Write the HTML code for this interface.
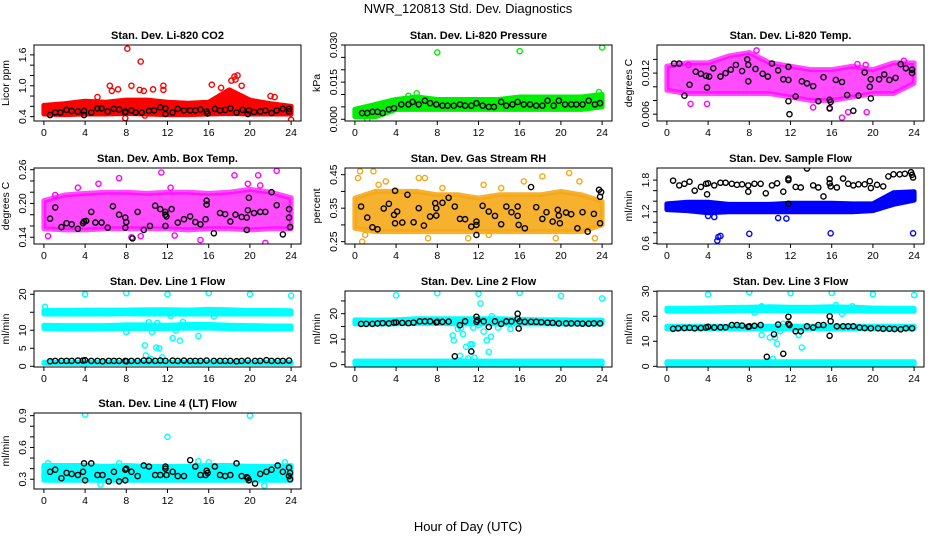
<!DOCTYPE html>
<html><head><meta charset="utf-8">
<style>
html,body{margin:0;padding:0;background:#fff;}
svg{display:block;font-family:"Liberation Sans",Arial,sans-serif;}
</style></head>
<body>
<svg id="chart" width="936" height="540" viewBox="0 0 936 540">
<rect x="0" y="0" width="936" height="540" fill="#fff"/>
<text x="468" y="13" text-anchor="middle" font-size="13">NWR_120813  Std. Dev. Diagnostics</text>
<text x="468" y="531" text-anchor="middle" font-size="13">Hour of Day (UTC)</text>
</svg>
<script>
// ---- shared data ----
const bandHours = [0,2,4,6,8,10,12,14,16,18,20,22,24];
const rowHours = [0.6,1.1,1.7,2.2,2.7,3.3,3.8,4.0,4.6,5.2,5.7,6.3,6.8,7.3,7.9,8.0,8.5,9.1,9.7,10.2,10.8,11.3,11.8,12.5,13.0,13.6,14.2,14.7,15.2,15.8,16.5,17.1,17.6,18.1,18.7,19.2,19.8,20.5,21.0,21.6,22.1,22.7,23.2,23.8];
const xTicks = [0,4,8,12,16,20,24];

// ---- panel 1: CO2 ----
const co2Lo = [0.45,0.44,0.45,0.45,0.46,0.45,0.44,0.44,0.45,0.46,0.45,0.45,0.45];
const co2Hi = [0.62,0.65,0.7,0.68,0.72,0.72,0.68,0.66,0.68,0.92,0.72,0.65,0.6];
const co2Out = [[8.1,1.72],[9.4,1.47],[6.4,1.0],[6.6,0.9],[7.2,0.93],[8.5,1.0],[9.3,0.92],[9.7,0.9],[10.6,0.93],[11.6,1.0],[11.6,0.92],[16.3,1.02],[17.2,0.96],[18.5,1.18],[18.8,1.2],[19.2,1.0],[22,0.8],[22.4,0.78],[7.9,0.37],[24,0.34],[9.8,0.42],[5.2,0.78],[18.2,1.1],[18.6,1.12]];
const co2Black = [[0.6,0.43],[1.1,0.48],[1.6,0.48],[2.2,0.53],[2.7,0.51],[3.3,0.5],[3.9,0.43],[3.9,0.51],[4.6,0.48],[5.2,0.56],[5.6,0.56],[6.2,0.5],[6.8,0.55],[7.3,0.54],[7.9,0.48],[7.9,0.5],[8.5,0.52],[8.9,0.48],[9.5,0.48],[10.2,0.51],[10.7,0.52],[11.3,0.58],[11.8,0.45],[11.8,0.56],[12.5,0.48],[13,0.55],[13.6,0.52],[14.2,0.52],[14.7,0.52],[15.2,0.54],[15.8,0.5],[15.9,0.46],[16.6,0.55],[17.1,0.52],[17.6,0.53],[18.1,0.56],[18.7,0.48],[19.3,0.53],[19.8,0.45],[19.9,0.52],[20.4,0.49],[21,0.5],[21.5,0.52],[22.1,0.47],[22.6,0.52],[23.2,0.55],[23.8,0.5],[23.8,0.55]];
// ---- panel 2: pressure ----
const presLo = [0.001,0.001,0.004,0.004,0.004,0.004,0.004,0.004,0.004,0.004,0.004,0.004,0.005];
const presHi = [0.004,0.006,0.008,0.009,0.008,0.008,0.008,0.008,0.009,0.009,0.009,0.009,0.01];
const presOut = [[8,0.027],[16,0.0275],[24,0.029],[23.7,0.011],[1.2,0.0],[6,0.0105],[5.2,0.0095]];
const presBlack = [[0.7,0.0025],[1.2,0.0025],[1.7,0.003],[2.2,0.003],[2.7,0.0025],[3.3,0.004],[3.8,0.0045],[4.5,0.006],[5.2,0.006],[5.6,0.007],[6.2,0.006],[6.8,0.0075],[7.3,0.0065],[7.9,0.006],[8.5,0.0055],[9,0.0055],[9.6,0.0055],[10.2,0.006],[10.7,0.0055],[11.3,0.0055],[11.8,0.0065],[12.4,0.0055],[13,0.005],[13.5,0.005],[14.2,0.007],[14.7,0.0055],[15.3,0.006],[15.8,0.007],[16.4,0.006],[17,0.006],[17.6,0.0055],[18.2,0.0055],[18.7,0.0075],[19.3,0.0055],[19.8,0.0075],[20.4,0.006],[21,0.006],[21.5,0.006],[22.1,0.006],[22.7,0.0075],[23.3,0.006],[23.8,0.0065]];
// ---- panel 3: Li-820 temp ----
const ltLo = [0.0095,0.009,0.009,0.009,0.009,0.009,0.0085,0.008,0.008,0.0085,0.009,0.009,0.0105];
const ltHi = [0.013,0.0135,0.0135,0.0145,0.015,0.0135,0.013,0.0125,0.0125,0.013,0.0125,0.0135,0.0135];
const ltOut = [[3.9,0.0075],[2.3,0.0075],[14.2,0.007],[15.8,0.0068],[17.6,0.0063],[17,0.0055],[19.4,0.0063],[18.5,0.0133],[8.7,0.0153],[19.3,0.0132],[23,0.0138],[2.1,0.0132]];
const ltBlack = [[0.7,0.0134],[1.2,0.0134],[1.7,0.0087],[2.2,0.0103],[2.8,0.0122],[3.3,0.0119],[3.8,0.0116],[3.9,0.0099],[4.1,0.0115],[4.5,0.0127],[5.2,0.0115],[5.7,0.012],[6.2,0.0125],[6.7,0.0132],[7.3,0.0123],[7.9,0.0108],[7.8,0.014],[7.9,0.0132],[8.6,0.0126],[9.3,0.0119],[9.8,0.0115],[10.2,0.0134],[10.8,0.0124],[11.3,0.0111],[11.8,0.011],[11.8,0.0129],[11.8,0.0079],[11.9,0.006],[12.5,0.0086],[13.1,0.0108],[13.6,0.0105],[14.2,0.0101],[14.7,0.0079],[15.2,0.0114],[15.8,0.0081],[15.8,0.0069],[15.9,0.0078],[16.4,0.011],[17,0.0107],[17.5,0.0088],[18.1,0.0065],[18.6,0.0087],[19.2,0.0121],[19.7,0.01],[19.8,0.0111],[19.8,0.0083],[20.6,0.0111],[21.1,0.0118],[21.6,0.011],[22.2,0.0113],[22.7,0.0133],[23.2,0.0127],[23.8,0.0125],[23.8,0.012]];
// ---- panel 4: Amb box temp ----
const abLo = [0.155,0.153,0.153,0.155,0.155,0.155,0.155,0.153,0.155,0.155,0.153,0.155,0.155];
const abHi = [0.205,0.215,0.218,0.22,0.22,0.218,0.22,0.22,0.218,0.22,0.225,0.22,0.21];
const abOut = [[0.4,0.142],[5.3,0.235],[7.3,0.245],[11.4,0.255],[18.5,0.25],[20.8,0.25],[22.6,0.258],[21.5,0.13],[15.2,0.135],[8.5,0.14],[9.4,0.142],[12.7,0.143],[1.1,0.215],[3.3,0.228],[19.8,0.235],[21,0.232],[12.3,0.228]];
const abBlack = [[0.6,0.173],[1.1,0.193],[1.7,0.158],[2.2,0.165],[2.7,0.163],[3.3,0.155],[3.8,0.165],[3.9,0.168],[4.1,0.169],[4.6,0.185],[5,0.166],[5.6,0.166],[6.2,0.157],[6.7,0.195],[7.3,0.18],[7.9,0.175],[7.9,0.157],[8,0.167],[8.6,0.138],[9.1,0.185],[9.7,0.153],[10.3,0.16],[10.8,0.196],[11.3,0.19],[11.8,0.185],[11.8,0.18],[11.9,0.177],[11.8,0.16],[12.4,0.19],[13,0.166],[13.6,0.172],[14.2,0.177],[14.7,0.167],[15.2,0.163],[15.7,0.172],[15.8,0.198],[15.8,0.205],[16.5,0.147],[17.1,0.183],[17.6,0.181],[18.1,0.168],[18.6,0.18],[19.2,0.176],[19.7,0.175],[19.7,0.153],[19.8,0.188],[19.9,0.21],[20.4,0.183],[21,0.185],[21.5,0.185],[22.1,0.22],[22.6,0.197],[23.2,0.145],[23.8,0.19],[23.8,0.175],[23.9,0.158]];
// ---- panel 5: RH ----
const rhLo = [0.29,0.28,0.28,0.28,0.28,0.28,0.28,0.28,0.28,0.28,0.28,0.28,0.3];
const rhHi = [0.38,0.4,0.4,0.4,0.39,0.39,0.38,0.39,0.39,0.39,0.4,0.39,0.37];
const rhOut = [[0.5,0.46],[0.3,0.44],[1.8,0.46],[2.3,0.42],[3,0.43],[6.2,0.44],[6.8,0.44],[7.1,0.26],[0.7,0.25],[1,0.27],[11,0.26],[12.5,0.42],[13,0.27],[16.4,0.43],[18.2,0.445],[20.8,0.455],[21.8,0.43],[23.3,0.26],[19.5,0.26],[8.5,0.41],[14.2,0.41]];
const rhBlack = [[0.6,0.355],[1.2,0.322],[1.7,0.293],[2.2,0.287],[2.8,0.349],[3.3,0.363],[3.8,0.33],[3.9,0.402],[3.9,0.305],[4.1,0.34],[4.6,0.307],[5.1,0.39],[5.7,0.308],[6.2,0.35],[6.7,0.298],[7.3,0.325],[7.8,0.365],[7.9,0.35],[7.9,0.328],[8.5,0.366],[9.1,0.381],[9.7,0.355],[10.2,0.318],[10.7,0.317],[11.3,0.295],[11.8,0.3],[11.8,0.31],[11.8,0.27],[12.4,0.357],[13,0.34],[13.6,0.327],[14.2,0.302],[14.7,0.355],[15.2,0.338],[15.8,0.355],[15.8,0.327],[15.9,0.3],[16.5,0.29],[17.1,0.413],[17.6,0.353],[18.2,0.318],[18.6,0.338],[19.2,0.31],[19.7,0.345],[19.8,0.328],[19.9,0.305],[20.5,0.337],[21,0.332],[21.6,0.29],[22.1,0.338],[22.6,0.28],[23.2,0.333],[23.7,0.405],[23.8,0.384],[23.9,0.398],[23.8,0.305]];
// ---- panel 6: sample flow ----
const sfLo = [1.24,1.22,1.18,1.2,1.2,1.2,1.2,1.2,1.2,1.2,1.22,1.34,1.42];
const sfHi = [1.35,1.38,1.38,1.34,1.34,1.34,1.36,1.36,1.36,1.35,1.35,1.56,1.58];
const sfOut = [[4.9,0.65],[5,0.72],[5.2,0.74],[8,0.78],[15.9,0.79],[23.9,0.79],[10.8,1.08],[11.6,1.07],[4,1.12],[4.6,1.1]];
const sfBlack = [[0.6,1.79],[1.2,1.7],[1.7,1.73],[2.2,1.77],[2.7,1.6],[3.3,1.67],[3.8,1.73],[4,1.74],[3.9,1.53],[4.6,1.7],[5.2,1.75],[5.7,1.75],[6.3,1.73],[6.8,1.71],[7.3,1.72],[7.9,1.7],[7.9,1.58],[8.5,1.73],[9.1,1.73],[9.6,1.55],[10.2,1.7],[10.7,1.74],[11.3,1.58],[11.8,1.8],[11.8,1.83],[11.8,1.35],[12.5,1.67],[13,1.66],[13.6,2.02],[14.2,1.7],[14.7,1.66],[15.2,1.49],[15.8,1.82],[15.8,1.74],[15.9,1.68],[16.5,1.66],[17.1,1.83],[17.6,1.73],[18.1,1.7],[18.6,1.72],[19.2,1.72],[19.7,1.78],[19.8,1.65],[20.4,1.71],[21,1.68],[21.5,1.87],[22,1.91],[22.6,1.91],[23.1,1.92],[23.7,1.95],[23.8,1.9],[23.9,1.85]];
// ---- panel 7: line 1 flow ----
const l1HighLo = [14.5,14.5,14.5,14.5,14.6,14.5,14.5,14.5,14.5,14.5,14.5,14.5,14.5];
const l1HighHi = [15.5,15.5,15.6,15.6,15.6,15.7,15.7,15.6,15.8,15.7,15.5,15.5,15.4];
const l1MidLo = [10.5,10.4,10.4,10.4,10.5,10.5,10.5,10.6,10.6,10.5,10.4,10.3,10.4];
const l1MidHi = [11.4,11.3,11.3,11.3,11.5,11.5,11.4,11.6,11.6,11.4,11.3,11.2,11.2];
const l1LowLo = [0.8,0.8,0.8,0.8,0.8,0.8,0.8,0.8,0.8,0.8,0.8,0.8,0.8];
const l1LowHi = [1.1,1.1,1.1,1.1,1.1,1.1,1.1,1.1,1.1,1.1,1.1,1.1,1.1];
const l1Out = [[4,20],[8,20.3],[12,20],[16,20.3],[20,20],[24,19.6],[0.1,16.5],[9.8,5.8],[9.9,3],[10.4,2],[10.9,5.2],[11.2,5],[11.5,2.5],[10.2,12.2],[11,12],[12.5,7.8],[13.2,7.1],[15,8.4],[12.8,9.9],[8,9.5],[10.5,9.5],[13.5,12.3],[12.3,14],[16.5,13.8],[3.9,0.3]];
const l1Row = [1.4,1.5,1.5,1.5,1.5,1.6,1.6,1.7,1.5,1.5,1.4,1.5,1.5,1.5,1.5,1.4,1.5,1.5,1.6,1.6,1.5,1.6,1.5,1.6,1.5,1.6,1.5,1.5,1.5,1.6,1.5,1.5,1.5,1.5,1.4,1.5,1.6,1.5,1.5,1.7,1.5,1.5,1.5,1.6];
const l1Black = [];
// ---- panel 8: line 2 flow ----
const l2HighLo = [16,16,16,16.2,16.2,16,16,16,16,16,16,16,16];
const l2HighHi = [17.6,17.5,17.6,18,18,18,18,18,17.8,17.6,17.6,17.5,17.5];
const l2LowLo = [0.3,0.3,0.3,0.3,0.3,0.3,0.3,0.3,0.3,0.3,0.3,0.3,0.3];
const l2LowHi = [1.4,1.4,1.4,1.4,1.4,1.4,1.4,1.4,1.4,1.4,1.4,1.4,1.4];
const l2Out = [[4,27.2],[8,28],[12,27.8],[16,28.2],[20,27],[24,26],[12.2,24],[9.5,11.5],[9.6,9.5],[10,14],[10.5,12],[10.8,7],[11.2,8],[11.4,8],[11,2.5],[11.6,2.8],[10.2,3.5],[12.5,13],[12.8,9.5],[13,5],[13.2,11],[13.3,19],[15.1,14],[11.5,14.5],[12,15.5],[10.3,14.5],[13.9,14.5]];
const l2Row = [16,16,16,16.2,16.3,16.2,16.5,16.6,16.4,16.3,16.5,17,17,17,16.6,16.8,16.8,16.9,null,null,null,null,null,null,null,null,null,17,17,null,16.8,16.8,16.8,16.7,16.5,16.4,16.2,16.2,16.2,16.2,16.1,16.1,16.2,16.2];
const l2Black = [[9.7,3.3],[11.3,5.2],[10.2,15.5],[10.7,17],[11.8,16.8],[11.8,18.8],[11.9,17.5],[12.5,17],[13,14.8],[13.6,17],[14.2,16],[15.8,20],[15.9,14.2],[15.8,18],[16,17]];
// ---- panel 9: line 3 flow ----
const l3HighLo = [22,22,22,22.2,22.3,22.3,22.2,22.2,22.2,22.2,22,22,22];
const l3HighHi = [23.2,23.2,23.3,23.5,23.6,23.8,23.6,23.6,23.8,23.6,23.3,23.2,23.2];
const l3MidLo = [15,15,15,15,15,15,15,15,15,15,15,15,15];
const l3MidHi = [16,16,16,16,16,16,16,16,16,16,16,16,16];
const l3LowLo = [0.9,0.9,0.9,0.9,0.9,0.9,0.9,0.9,0.9,0.9,0.9,0.9,0.9];
const l3LowHi = [1.8,1.8,1.8,1.8,1.8,1.8,1.8,1.8,1.8,1.8,1.8,1.8,1.8];
const l3Out = [[4,28.7],[8,29.6],[12,29.2],[16,29.3],[20,28.8],[24,28.5],[9.2,12.5],[10,11.5],[10.5,11.5],[10.7,9],[11,14],[11.3,17],[12.8,12.5],[13.1,7.5],[10.3,3],[16.4,24.5],[18,24],[8.5,21.5],[9.2,24],[17,21]];
const l3Row = [15,15.2,15.3,15.4,15.2,15.3,15.5,15.8,15.5,15.6,15.6,16.5,16.5,16.3,15.8,16,16.2,16.5,null,null,null,null,null,null,null,null,null,16.5,16.5,null,16,16,16,16,15.5,15.3,15.2,15.2,15,15,14.9,14.8,15.2,15.2];
const l3Black = [[9.7,3.8],[10.4,12.8],[10.8,16.7],[11.3,5],[11.8,19.8],[11.8,17],[11.9,16.5],[12.5,14],[13,14],[13.6,16],[14.2,15.5],[15.8,20],[15.9,18],[15.8,12.2]];
// ---- panel 10: line 4 flow ----
const l4Lo = [0.29,0.29,0.29,0.29,0.29,0.29,0.29,0.29,0.29,0.29,0.29,0.29,0.29];
const l4Hi = [0.43,0.43,0.43,0.42,0.43,0.42,0.42,0.42,0.43,0.43,0.42,0.42,0.43];
const l4Out = [[4,0.91],[20,0.9],[12,0.7],[21.4,0.24],[5.5,0.25],[15,0.47],[23.4,0.46],[0.4,0.45],[16,0.46],[7.3,0.45]];
const l4Black = [[0.6,0.37],[1.1,0.39],[1.7,0.31],[2.2,0.36],[2.7,0.35],[3.3,0.34],[3.8,0.37],[3.9,0.45],[4,0.29],[4.6,0.45],[5.2,0.34],[5.7,0.34],[6.3,0.28],[6.8,0.37],[7.3,0.28],[7.9,0.29],[7.9,0.39],[8,0.4],[8.5,0.37],[9.1,0.33],[9.7,0.43],[10.2,0.42],[10.8,0.34],[11.3,0.34],[11.8,0.42],[11.8,0.4],[11.9,0.34],[12.5,0.37],[13,0.33],[13.6,0.33],[14.2,0.48],[14.7,0.42],[15.2,0.34],[15.7,0.34],[15.8,0.38],[15.9,0.36],[16.6,0.42],[17.1,0.34],[17.6,0.33],[18.1,0.34],[18.7,0.45],[19.2,0.33],[19.7,0.32],[19.8,0.31],[19.9,0.29],[20.5,0.26],[21,0.35],[21.6,0.37],[22.1,0.39],[22.7,0.43],[23.2,0.37],[23.8,0.33],[23.8,0.41],[23.9,0.3],[23.9,0.36]];

const panels = [
 {id:'co2',title:'Stan. Dev. Li-820 CO2',yl:'Licor ppm',col:0,row:0,y0:0.315,y1:1.792,ticks:[0.4,0.6,0.8,1.0,1.2,1.4,1.6],labels:['0.4','1.0','1.6'],lv:[0.4,1.0,1.6],color:'#ff0000',bands:[[co2Lo,co2Hi]],out:co2Out,black:co2Black,op:1},
 {id:'pressure',title:'Stan. Dev. Li-820 Pressure',yl:'kPa',col:1,row:0,y0:-0.0007,y1:0.030,ticks:[0,0.005,0.01,0.015,0.02,0.025,0.03],labels:['0.000','0.015','0.030'],lv:[0,0.015,0.03],color:'#00ee00',bands:[[presLo,presHi]],out:presOut,black:presBlack,op:1},
 {id:'li820-temp',title:'Stan. Dev. Li-820 Temp.',yl:'degrees C',col:2,row:0,y0:0.00501,y1:0.0161,ticks:[0.006,0.008,0.010,0.012,0.014],labels:['0.006','0.012'],lv:[0.006,0.012],color:'#ff00ff',bands:[[ltLo,ltHi]],out:ltOut,black:ltBlack,op:0.7},
 {id:'amb-box-temp',title:'Stan. Dev. Amb. Box Temp.',yl:'degrees C',col:0,row:1,y0:0.128,y1:0.263,ticks:[0.14,0.16,0.18,0.20,0.22,0.24,0.26],labels:['0.14','0.20','0.26'],lv:[0.14,0.20,0.26],color:'#ff00ff',bands:[[abLo,abHi]],out:abOut,black:abBlack,op:0.7},
 {id:'gas-rh',title:'Stan. Dev. Gas Stream RH',yl:'percent',col:1,row:1,y0:0.243,y1:0.47,ticks:[0.25,0.30,0.35,0.40,0.45],labels:['0.25','0.35','0.45'],lv:[0.25,0.35,0.45],color:'#f5a818',bands:[[rhLo,rhHi]],out:rhOut,black:rhBlack,op:0.9},
 {id:'sample-flow',title:'Stan. Dev. Sample Flow',yl:'ml/min',col:2,row:1,y0:0.587,y1:2.03,ticks:[0.6,0.8,1.0,1.2,1.4,1.6,1.8],labels:['0.6','1.2','1.8'],lv:[0.6,1.2,1.8],color:'#0000ff',bands:[[sfLo,sfHi]],out:sfOut,black:sfBlack,op:1},
 {id:'line1-flow',title:'Stan. Dev. Line 1 Flow',yl:'ml/min',col:0,row:2,y0:-0.2,y1:20.9,ticks:[0,5,10,15,20],labels:['0','5','10','','20'],lv:[0,5,10,15,20],color:'#00ffff',bands:[[l1HighLo,l1HighHi],[l1MidLo,l1MidHi],[l1LowLo,l1LowHi]],out:l1Out,black:l1Black,row2:l1Row,op:1},
 {id:'line2-flow',title:'Stan. Dev. Line 2 Flow',yl:'ml/min',col:1,row:2,y0:-0.9,y1:28.9,ticks:[0,5,10,15,20,25],labels:['0','10','20'],lv:[0,10,20],color:'#00ffff',bands:[[l2HighLo,l2HighHi],[l2LowLo,l2LowHi]],out:l2Out,black:l2Black,row2:l2Row,op:1},
 {id:'line3-flow',title:'Stan. Dev. Line 3 Flow',yl:'ml/min',col:2,row:2,y0:-0.28,y1:30.1,ticks:[0,10,20,30],labels:['0','10','20','30'],lv:[0,10,20,30],color:'#00ffff',bands:[[l3HighLo,l3HighHi],[l3MidLo,l3MidHi],[l3LowLo,l3LowHi]],out:l3Out,black:l3Black,row2:l3Row,op:1},
 {id:'line4-flow',title:'Stan. Dev. Line 4 (LT) Flow',yl:'ml/min',col:0,row:3,y0:0.208,y1:0.925,ticks:[0.3,0.4,0.5,0.6,0.7,0.8,0.9],labels:['0.3','0.6','0.9'],lv:[0.3,0.6,0.9],color:'#00ffff',bands:[[l4Lo,l4Hi]],out:l4Out,black:l4Black,op:1}
];

const NS='http://www.w3.org/2000/svg';
const svg=document.getElementById('chart');
const colLeft=[34,345,657], rowTop=[45,168,291,413], W=267, H=76;
function mk(tag,attrs,parent){const e=document.createElementNS(NS,tag);for(const k in attrs)e.setAttribute(k,attrs[k]);(parent||svg).appendChild(e);return e;}

panels.forEach(p=>{
  const L=colLeft[p.col], T=rowTop[p.row], B=T+H, R=L+W;
  const g=mk('g',{});
  
  
  const xs=v=>L+W*(v+0.96)/25.92;
  const ys=v=>B-H*(v-p.y0)/(p.y1-p.y0);
  const clip='clip-'+p.id;
  const cp=mk('clipPath',{id:clip},g); mk('rect',{x:L,y:T,width:W,height:H},cp);
  const plot=mk('g',{'clip-path':'url(#'+clip+')'},g);
  p.bands.forEach((b,bi)=>{
    const pts=[];
    bandHours.forEach((h,i)=>pts.push(xs(h)+','+ys(b[1][i])));
    for(let i=bandHours.length-1;i>=0;i--)pts.push(xs(bandHours[i])+','+ys(b[0][i]));
    const poly=mk('polygon',{points:pts.join(' '),fill:p.color,stroke:p.color,'stroke-width':5,'stroke-linejoin':'round','fill-opacity':p.op,'stroke-opacity':p.op},plot);
    
    
  });
  p.out.forEach(d=>{
    const c=mk('circle',{cx:xs(d[0]),cy:ys(d[1]),r:2.6,fill:'none',stroke:p.color,'stroke-width':1.4},plot);
    
    
  });
  const blk=p.black.slice();
  if(p.row2) p.row2.forEach((v,i)=>{ if(v!==null) blk.push([rowHours[i],v]); });
  blk.forEach(d=>{
    const c=mk('circle',{cx:xs(d[0]),cy:ys(d[1]),r:2.6,fill:'none',stroke:'#000','stroke-width':1.4},plot);
    
    
  });
  const box=mk('rect',{x:L,y:T,width:W,height:H,fill:'none',stroke:'#000','stroke-width':1},g);
  
  
  mk('line',{x1:xs(0),x2:xs(24),y1:B,y2:B,stroke:'#000'},g);
  xTicks.forEach(t=>{
    mk('line',{x1:xs(t),x2:xs(t),y1:B,y2:B+4,stroke:'#000'},g);
    const tx=mk('text',{x:xs(t),y:B+15,'text-anchor':'middle','font-size':10.5},g);
    tx.textContent=t;
    
    
  });
  mk('line',{x1:L,x2:L,y1:ys(p.ticks[0]),y2:ys(p.ticks[p.ticks.length-1]),stroke:'#000'},g);
  p.ticks.forEach(t=>mk('line',{x1:L-4,x2:L,y1:ys(t),y2:ys(t),stroke:'#000'},g));
  p.lv.forEach((v,i)=>{
    if(!p.labels[i])return;
    const yy=ys(v);
    const tx=mk('text',{x:L-8,y:yy,'text-anchor':'middle','font-size':10.5,transform:'rotate(-90 '+(L-8)+' '+yy+')'},g);
    tx.textContent=p.labels[i];
    
    
  });
  const ym=T+H/2;
  const yt=mk('text',{x:L-25,y:ym,'text-anchor':'middle','font-size':10.5,transform:'rotate(-90 '+(L-25)+' '+ym+')'},g);
  yt.textContent=p.yl;
  
  
  const tt=mk('text',{x:L+W/2,y:T-6,'text-anchor':'middle','font-size':11,'font-weight':'bold'},g);
  tt.textContent=p.title;
  
  
});
</script>
</body></html>
